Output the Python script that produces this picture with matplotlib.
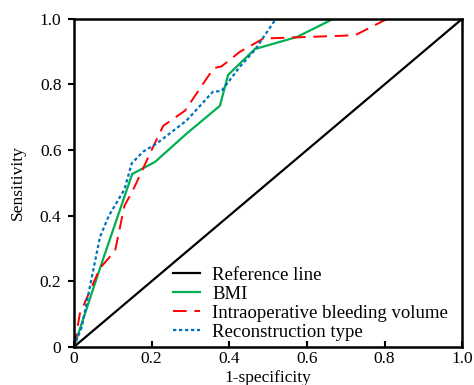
import numpy as np
import matplotlib.pyplot as plt

plt.rcParams['font.family'] = ['Liberation Serif', 'DejaVu Serif']

# ROC curves
ref_x = [0.0, 1.0]
ref_y = [0.0, 1.0]

bmi_x = [0.0, 0.07, 0.15, 0.209, 0.29, 0.376, 0.397, 0.466, 0.575, 0.668, 1.0]
bmi_y = [0.0, 0.25, 0.527, 0.564, 0.65, 0.735, 0.829, 0.908, 0.945, 1.0, 1.0]

blood_x = [0.0, 0.005, 0.015, 0.067, 0.106, 0.13, 0.153, 0.2, 0.23, 0.286, 0.36, 0.38, 0.428, 0.488, 0.724, 0.807, 1.0]
blood_y = [0.0, 0.03, 0.1, 0.24, 0.293, 0.43, 0.48, 0.6, 0.674, 0.72, 0.85, 0.855, 0.9, 0.94, 0.95, 1.0, 1.0]

recon_x = [0.0, 0.02, 0.067, 0.09, 0.13, 0.149, 0.178, 0.213, 0.29, 0.358, 0.38, 0.428, 0.466, 0.52]
recon_y = [0.0, 0.06, 0.335, 0.4, 0.48, 0.56, 0.595, 0.62, 0.69, 0.778, 0.78, 0.855, 0.905, 1.0]

labels = ["Reference line", "BMI", "Intraoperative bleeding volume", "Reconstruction type"]

fig = plt.figure(figsize=(4.74, 3.85), dpi=100)
ax = fig.add_axes([0.156, 0.099, 0.819, 0.852])

ax.plot(ref_x, ref_y, color="black", lw=1.6, label=labels[0])
ax.plot(bmi_x, bmi_y, color="#00b050", lw=1.6, label=labels[1])
ax.plot(blood_x, blood_y, color="#ff0000", lw=1.4, dashes=(7, 4), label=labels[2])
ax.plot(recon_x, recon_y, color="#0070c0", lw=1.6, dashes=(1.5, 1.2), label=labels[3])

ax.set_xlim(0, 1)
ax.set_ylim(0, 1)
ticks = [0, 0.2, 0.4, 0.6, 0.8, 1.0]
ticklabels = ["0", "0.2", "0.4", "0.6", "0.8", "1.0"]
ax.set_xticks(ticks)
ax.set_xticklabels(ticklabels)
ax.set_yticks(ticks)
ax.set_yticklabels(ticklabels)
ax.tick_params(axis="x", direction="in", length=4, width=1.5, labelsize=12.5, pad=3)
ax.tick_params(axis="y", direction="out", length=4, width=1.5, labelsize=12.5, pad=5)
for s in ax.spines.values():
    s.set_linewidth(1.8)

ax.set_xlabel("1-specificity", fontsize=12.5, labelpad=2)
ax.set_ylabel("Sensitivity", fontsize=12.5, labelpad=10)

ax.legend(loc="lower left", bbox_to_anchor=(0.235, -0.005), frameon=False, fontsize=13.5,
          handlelength=1.45, handletextpad=0.65, labelspacing=0.1, borderaxespad=0.0)

fig.savefig("out.png", dpi=100)
